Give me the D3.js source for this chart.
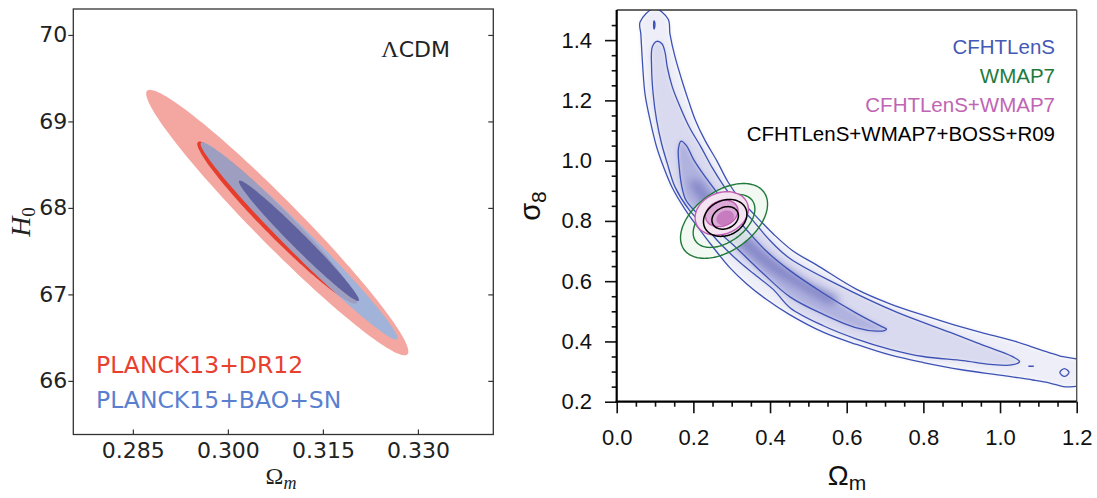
<!DOCTYPE html>
<html><head><meta charset="utf-8">
<script src="https://cdn.jsdelivr.net/npm/d3@7"></script>
<style>body{margin:0;background:#fff}svg{display:block}</style>
</head><body><svg id="c" width="1097" height="498"></svg>
<script>
// ---------------- DATA ----------------
// Left panel: LCDM constraints (Gaussian approximations: [mean Om, mean H0, sigma Om, sigma H0, rho])
const leftXTicks = [0.285, 0.300, 0.315, 0.330];
const leftYTicks = [66, 67, 68, 69, 70];
const planck13DR12 = [0.3078, 67.83, 0.00833, 0.618, -0.971];
const planck15BaoSn = [0.31122, 67.62, 0.00625, 0.459, -0.984];
const levels2D = [6.17, 2.30]; // delta chi^2 for 95% and 68%
const leftLegend = ["PLANCK13+DR12", "PLANCK15+BAO+SN"];

// Right panel: Om - sigma8
const rightXTicks = [0.0, 0.2, 0.4, 0.6, 0.8, 1.0, 1.2];
const rightYTicks = [0.2, 0.4, 0.6, 0.8, 1.0, 1.2, 1.4];
const rightLegend = ["CFHTLenS", "WMAP7", "CFHTLenS+WMAP7", "CFHTLenS+WMAP7+BOSS+R09"];

// CFHTLenS contours ([Om, sigma8])
const cfhtOuter = [[0.098,1.505],[0.061,1.46],[0.063,1.42],[0.068,1.31],[0.074,1.22],[0.087,1.135],[0.104,1.046],
  [0.122,0.98],[0.145,0.91],[0.18,0.835],[0.217,0.77],[0.25,0.715],[0.295,0.645],[0.34,0.59],[0.39,0.54],
  [0.45,0.49],[0.54,0.43],[0.626,0.39],[0.713,0.355],[0.80,0.33],[0.90,0.306],[1.0,0.288],[1.086,0.272],
  [1.13,0.262],[1.165,0.25],[1.19,0.25],[1.22,0.26],[1.22,0.33],[1.155,0.352],[1.106,0.372],[1.04,0.40],
  [0.95,0.43],[0.88,0.455],[0.80,0.487],[0.713,0.525],[0.626,0.573],[0.52,0.655],[0.46,0.70],[0.41,0.755],
  [0.36,0.82],[0.32,0.875],[0.29,0.93],[0.261,1.0],[0.23,1.068],[0.205,1.135],[0.187,1.20],[0.170,1.267],
  [0.152,1.345],[0.139,1.42],[0.134,1.47]];
const cfhtMid = [[0.105,1.396],[0.093,1.378],[0.091,1.311],[0.095,1.223],[0.104,1.135],[0.117,1.057],[0.132,0.991],
  [0.152,0.913],[0.19,0.835],[0.235,0.775],[0.27,0.725],[0.313,0.672],[0.356,0.626],[0.409,0.572],[0.452,0.512],
  [0.539,0.452],[0.626,0.408],[0.713,0.374],[0.80,0.35],[0.904,0.336],[0.974,0.324],[1.03,0.322],[1.051,0.333],
  [1.035,0.348],[0.94,0.395],[0.87,0.43],[0.73,0.497],[0.574,0.59],[0.452,0.675],[0.40,0.735],[0.356,0.80],
  [0.313,0.86],[0.28,0.915],[0.25,0.975],[0.22,1.045],[0.19,1.11],[0.165,1.18],[0.145,1.245],[0.132,1.31],
  [0.126,1.36],[0.118,1.388]];
const cfhtInner = [[0.168,1.065],[0.161,1.04],[0.163,0.98],[0.17,0.913],[0.18,0.87],[0.2,0.838],[0.25,0.78],
  [0.3,0.725],[0.38,0.628],[0.452,0.548],[0.539,0.49],[0.626,0.445],[0.678,0.434],[0.70,0.437],[0.704,0.441],
  [0.69,0.45],[0.626,0.493],[0.539,0.56],[0.452,0.635],[0.39,0.70],[0.339,0.77],[0.296,0.835],[0.261,0.895],
  [0.226,0.955],[0.2,1.005],[0.182,1.05]];
const cfhtCore = [[0.19,0.93],[0.25,0.82],[0.32,0.72],[0.40,0.635],[0.48,0.575],[0.56,0.525],[0.58,0.54],
  [0.50,0.595],[0.42,0.66],[0.34,0.745],[0.27,0.835],[0.21,0.935]];
const cfhtIslandTop = [[0.0975,1.437],[0.0995,1.445],[0.0995,1.458],[0.0975,1.464],[0.0962,1.45]];
const cfhtIslandRing = [[1.156,0.297],[1.168,0.284],[1.18,0.297],[1.168,0.31]];
const cfhtIslandDash = [[1.074,0.318],[1.088,0.318]];

// Gaussian approximations [mean Om, mean sigma8, sigma Om, sigma sigma8, rho]
const wmap7 = [0.280, 0.800, 0.0457, 0.050, 0.45];
const wmap7Levels = [6.17, 3.1];
const cfhtWmap7 = [0.274, 0.825, 0.028, 0.029, 0.2];
const cfhtWmap7BossR09 = [0.283, 0.810, 0.0228, 0.0247, 0.2];

// ---------------- DRAW ----------------
const svg = d3.select("#c");
const defs = svg.append("defs");

function gaussPts(g, level, n = 160) {
  const [mx, my, sx, sy, r] = g, k = Math.sqrt(level);
  return d3.range(n).map(i => {
    const t = 2 * Math.PI * i / n;
    return [mx + k * sx * Math.cos(t), my + k * (r * sy * Math.cos(t) + sy * Math.sqrt(1 - r * r) * Math.sin(t))];
  });
}

// ===== Left panel =====
const xL = d3.scaleLinear().domain([0.2756, 0.3419]).range([73.3, 493.3]);
const yL = d3.scaleLinear().domain([65.38, 70.30]).range([434.5, 9]);
const lineL = d3.line().x(d => xL(d[0])).y(d => yL(d[1])).curve(d3.curveLinearClosed);
const gL = svg.append("g");
defs.append("clipPath").attr("id", "clipL").append("rect")
  .attr("x", 73.3).attr("y", 9).attr("width", 420).attr("height", 425.5);
const cL = gL.append("g").attr("clip-path", "url(#clipL)");
cL.append("path").attr("d", lineL(gaussPts(planck13DR12, levels2D[0]))).attr("fill", "#f3a7a0");
cL.append("path").attr("d", lineL(gaussPts(planck13DR12, levels2D[1]))).attr("fill", "#e63d2d");
cL.append("path").attr("d", lineL(gaussPts(planck15BaoSn, levels2D[0]))).attr("fill", "rgb(140,182,230)").attr("fill-opacity", 0.8);
cL.append("path").attr("d", lineL(gaussPts(planck15BaoSn, levels2D[1]))).attr("fill", "#5f629f");

const fontL = "'DejaVu Sans', sans-serif";
const axL = gL.append("g").attr("font-family", fontL);
const ayl = axL.append("g").attr("transform", "translate(73.3,0)")
  .call(d3.axisLeft(yL).tickValues(leftYTicks).tickSize(5).tickPadding(1).tickFormat(d3.format("d")));
const ayr = axL.append("g").attr("transform", "translate(493.3,0)")
  .call(d3.axisRight(yL).tickValues(leftYTicks).tickSize(-5).tickFormat(""));
const axb = axL.append("g").attr("transform", "translate(0,434.5)")
  .call(d3.axisBottom(xL).tickValues(leftXTicks).tickSize(-5).tickPadding(7.5).tickFormat(d3.format(".3f")));
[ayl, ayr, axb].forEach(a => {
  a.select(".domain").remove();
  a.selectAll("line").attr("stroke", "#333").attr("stroke-width", 1.2);
  a.selectAll("text").attr("font-size", 22).attr("fill", "#222").attr("font-family", fontL);
});
gL.append("rect").attr("x", 73.3).attr("y", 9).attr("width", 420).attr("height", 425.5)
  .attr("fill", "none").attr("stroke", "#333").attr("stroke-width", 1.3);

const lam = gL.append("text").attr("x", 450).attr("y", 57).attr("text-anchor", "end")
  .attr("font-size", 22).attr("fill", "#222").attr("font-family", fontL);
lam.append("tspan").attr("font-family", "'Liberation Serif', serif").attr("font-size", 24).text("Λ");
lam.append("tspan").text("CDM");

gL.append("text").attr("x", 96).attr("y", 373).attr("font-family", fontL).attr("font-size", 23.5)
  .attr("fill", "#e8402f").text(leftLegend[0]);
gL.append("text").attr("x", 96).attr("y", 408).attr("font-family", fontL).attr("font-size", 23.5)
  .attr("fill", "#5b7fcf").text(leftLegend[1]);

const xlab = gL.append("text").attr("x", 281).attr("y", 484).attr("text-anchor", "middle")
  .attr("font-family", "'Liberation Serif', serif").attr("font-size", 24).attr("fill", "#222");
xlab.append("tspan").text("Ω");
xlab.append("tspan").attr("font-style", "italic").attr("font-size", 18).attr("dy", 5).text("m");
const ylab = gL.append("text").attr("transform", "translate(30,222) rotate(-90)").attr("text-anchor", "middle")
  .attr("font-family", "'Liberation Serif', serif").attr("font-size", 28).attr("fill", "#222");
ylab.append("tspan").attr("font-style", "italic").text("H");
ylab.append("tspan").attr("font-size", 19).attr("dy", 5).text("0");

// ===== Right panel =====
const X0 = 616.7, X1 = 1076.7, Y0 = 10, Y1 = 401.7;
const xR = d3.scaleLinear().domain([0, 1.2]).range([X0, X1]);
const yR = d3.scaleLinear().domain([0.2, 1.5]).range([Y1, Y0]);
const lineR = d3.line().x(d => xR(d[0])).y(d => yR(d[1])).curve(d3.curveCatmullRomClosed.alpha(0.5));
const lineRo = d3.line().x(d => xR(d[0])).y(d => yR(d[1]));
defs.append("clipPath").attr("id", "clipR").append("rect")
  .attr("x", X0).attr("y", Y0).attr("width", X1 - X0).attr("height", Y1 - Y0);
defs.append("filter").attr("id", "blur").attr("x", "-20%").attr("y", "-20%").attr("width", "140%").attr("height", "140%")
  .append("feGaussianBlur").attr("stdDeviation", 2.5);
defs.append("filter").attr("id", "blur2").attr("x", "-30%").attr("y", "-30%").attr("width", "160%").attr("height", "160%")
  .append("feGaussianBlur").attr("stdDeviation", 4);

const gR = svg.append("g");
const cR = gR.append("g").attr("clip-path", "url(#clipR)");
const shade = cR.append("g").attr("filter", "url(#blur)");
shade.append("path").attr("d", lineR(cfhtOuter)).attr("fill", "#eeeef8");
shade.append("path").attr("d", lineR(cfhtMid)).attr("fill", "#d9d9ef");
shade.append("path").attr("d", lineR(cfhtInner)).attr("fill", "#b0b2df");
cR.append("g").attr("filter", "url(#blur2)").append("path").attr("d", lineR(cfhtCore)).attr("fill", "#8184c6");

// WMAP7 light fill
cR.append("path").attr("d", lineR(gaussPts(wmap7, wmap7Levels[0]))).attr("fill", "#eef7ee").attr("fill-opacity", 0.75);

// CFHTLenS lines
const blue = "#3d52b4";
[cfhtOuter, cfhtMid, cfhtInner, cfhtIslandTop, cfhtIslandRing].forEach(c =>
  cR.append("path").attr("d", lineR(c)).attr("fill", "none").attr("stroke", blue).attr("stroke-width", 1.3));
cR.append("path").attr("d", lineRo(cfhtIslandDash)).attr("fill", "none").attr("stroke", blue).attr("stroke-width", 1.5);

// WMAP7 lines
const green = "#1f7a3a";
wmap7Levels.forEach(l => cR.append("path").attr("d", lineR(gaussPts(wmap7, l))).attr("fill", "none")
  .attr("stroke", green).attr("stroke-width", 1.4));

// CFHTLenS+WMAP7 fill + lines
const magenta = "#c25fb3";
cR.append("path").attr("d", lineR(gaussPts(cfhtWmap7, levels2D[0]))).attr("fill", "#f4e4f2");
cR.append("path").attr("d", lineR(gaussPts(cfhtWmap7, levels2D[1]))).attr("fill", "#dcaad7");
cR.append("path").attr("d", lineR(gaussPts(cfhtWmap7BossR09, 1.0))).attr("fill", "#c77cbf");
levels2D.forEach(l => cR.append("path").attr("d", lineR(gaussPts(cfhtWmap7, l))).attr("fill", "none")
  .attr("stroke", magenta).attr("stroke-width", 1.4));
// combined black lines
levels2D.forEach(l => cR.append("path").attr("d", lineR(gaussPts(cfhtWmap7BossR09, l))).attr("fill", "none")
  .attr("stroke", "#000").attr("stroke-width", 1.5));

// axes
const fontR = "'Liberation Sans', Arial, sans-serif";
const minorY = d3.range(0.25, 1.5, 0.05).filter(v => Math.abs(v * 5 - Math.round(v * 5)) > 1e-6);
const minorX = d3.range(0.05, 1.2, 0.05).filter(v => Math.abs(v * 5 - Math.round(v * 5)) > 1e-6);
const ayR = gR.append("g").attr("transform", `translate(${X0},0)`)
  .call(d3.axisLeft(yR).tickValues(rightYTicks).tickSize(11.7).tickPadding(13).tickFormat(d3.format(".1f")));
const ayR2 = gR.append("g").attr("transform", `translate(${X0},0)`)
  .call(d3.axisLeft(yR).tickValues(minorY).tickSize(5).tickFormat(""));
const axR = gR.append("g").attr("transform", `translate(0,${Y1})`)
  .call(d3.axisBottom(xR).tickValues(rightXTicks).tickSize(11.6).tickPadding(16.5).tickFormat(d3.format(".1f")));
const axR2 = gR.append("g").attr("transform", `translate(0,${Y1})`)
  .call(d3.axisBottom(xR).tickValues(minorX).tickSize(5).tickFormat(""));
[ayR, ayR2, axR, axR2].forEach(a => {
  a.select(".domain").remove();
  a.selectAll("line").attr("stroke", "#111").attr("stroke-width", 1.6);
  a.selectAll("text").attr("font-size", 22).attr("fill", "#111").attr("font-family", fontR);
});
gR.append("line").attr("x1", X0).attr("x2", X1).attr("y1", Y0).attr("y2", Y0).attr("stroke", "#333").attr("stroke-width", 1.4);
gR.append("line").attr("x1", X1).attr("x2", X1).attr("y1", Y0).attr("y2", Y1).attr("stroke", "#555").attr("stroke-width", 1.4);
gR.append("line").attr("x1", X0).attr("x2", X0).attr("y1", Y0).attr("y2", Y1 + 1).attr("stroke", "#000").attr("stroke-width", 2.2);
gR.append("line").attr("x1", X0 - 1).attr("x2", X1).attr("y1", Y1).attr("y2", Y1).attr("stroke", "#000").attr("stroke-width", 2.2);

// legend
const legColors = ["#4459b5", "#1e7a3c", "#c064b4", "#000"];
const legY = [54, 83, 112, 141];
rightLegend.forEach((t, i) => gR.append("text").attr("x", 1055).attr("y", legY[i]).attr("text-anchor", "end")
  .attr("font-family", fontR).attr("font-size", 20.5).attr("fill", legColors[i]).text(t));

// axis titles
const xt = gR.append("text").attr("x", 847).attr("y", 485).attr("text-anchor", "middle")
  .attr("font-family", fontR).attr("font-size", 28).attr("fill", "#111");
xt.append("tspan").text("Ω");
xt.append("tspan").attr("font-size", 21).attr("dy", 5).text("m");
const yt = gR.append("text").attr("transform", "translate(540,206) rotate(-90)").attr("text-anchor", "middle")
  .attr("font-family", fontR).attr("font-size", 29).attr("fill", "#111");
yt.append("tspan").text("σ");
yt.append("tspan").attr("font-size", 21).attr("dy", 6).text("8");
</script></body></html>
